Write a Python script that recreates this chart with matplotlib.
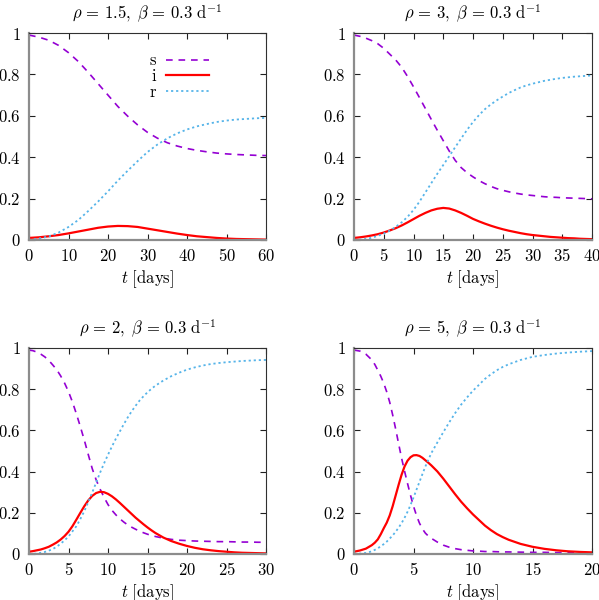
import matplotlib
matplotlib.use('Agg')
import matplotlib.pyplot as plt
from matplotlib.ticker import FuncFormatter, MultipleLocator

plt.rcParams['mathtext.fontset'] = 'cm'
plt.rcParams['font.family'] = 'DejaVu Serif'

# rho = 1.5
t1 = [0, 2.5, 5, 7.5, 10, 12.5, 15, 17.5, 20, 22.5, 25, 27.5, 30, 32.5, 35, 37.5,
      40, 42.5, 45, 47.5, 50, 52.5, 55, 57.5, 60]
s1 = [0.99, 0.98, 0.965, 0.94, 0.905, 0.862, 0.81, 0.755, 0.70, 0.645, 0.598, 0.556,
      0.52, 0.492, 0.47, 0.454, 0.442, 0.433, 0.426, 0.42, 0.416, 0.413, 0.411, 0.409, 0.408]
i1 = [0.010, 0.013, 0.018, 0.024, 0.032, 0.041, 0.050, 0.059, 0.065, 0.068, 0.067, 0.063,
      0.055, 0.047, 0.039, 0.031, 0.024, 0.018, 0.014, 0.010, 0.007, 0.005, 0.004, 0.003, 0.002]
r1 = [0.0, 0.007, 0.017, 0.036, 0.063, 0.097, 0.14, 0.186, 0.235, 0.287, 0.335, 0.381,
      0.425, 0.461, 0.491, 0.515, 0.534, 0.549, 0.56, 0.57, 0.577, 0.582, 0.585, 0.588, 0.59]

# rho = 3
t2 = list(range(0, 41))
s2 = [0.99, 0.984, 0.975, 0.963, 0.948, 0.926, 0.898, 0.87, 0.835, 0.79, 0.74, 0.688,
      0.635, 0.582, 0.53, 0.48, 0.43, 0.385, 0.35, 0.325, 0.305, 0.287, 0.272, 0.259,
      0.248, 0.24, 0.233, 0.227, 0.222, 0.218, 0.215, 0.212, 0.209, 0.207, 0.206, 0.204,
      0.203, 0.202, 0.201, 0.2, 0.199]
i2 = [0.01, 0.013, 0.017, 0.022, 0.028, 0.036, 0.046, 0.057, 0.07, 0.085, 0.101, 0.117,
      0.131, 0.143, 0.151, 0.155, 0.152, 0.143, 0.131, 0.117, 0.102, 0.09, 0.079, 0.069,
      0.06, 0.052, 0.045, 0.039, 0.033, 0.028, 0.024, 0.021, 0.018, 0.015, 0.013, 0.011,
      0.009, 0.008, 0.006, 0.005, 0.004]
r2 = [0.0, 0.002, 0.005, 0.011, 0.02, 0.031, 0.045, 0.063, 0.085, 0.112, 0.145, 0.185,
      0.23, 0.275, 0.32, 0.362, 0.405, 0.448, 0.49, 0.532, 0.57, 0.603, 0.632, 0.655,
      0.675, 0.693, 0.71, 0.724, 0.737, 0.747, 0.755, 0.762, 0.769, 0.774, 0.779, 0.783,
      0.786, 0.789, 0.791, 0.793, 0.795]

# rho = 2
t3 = [0, 0.5, 1, 1.5, 2, 2.5, 3, 3.5, 4, 4.5, 5, 5.5, 6, 6.5, 7, 7.5, 8, 8.5, 9, 9.5,
      10, 10.5, 11, 11.5, 12, 12.5, 13, 13.5, 14, 14.5, 15, 15.5, 16, 17, 18, 19, 20,
      21, 22, 23, 24, 25, 26, 27, 28, 29, 30]
s3 = [0.99, 0.987, 0.98, 0.97, 0.957, 0.94, 0.918, 0.895, 0.865, 0.83, 0.788, 0.738,
      0.68, 0.618, 0.553, 0.483, 0.415, 0.36, 0.315, 0.275, 0.24, 0.212, 0.19, 0.171,
      0.155, 0.141, 0.13, 0.12, 0.111, 0.103, 0.096, 0.09, 0.085, 0.077, 0.071, 0.067,
      0.065, 0.063, 0.062, 0.061, 0.06, 0.06, 0.059, 0.058, 0.058, 0.057, 0.057]
i3 = [0.011, 0.014, 0.018, 0.022, 0.028, 0.035, 0.045, 0.056, 0.07, 0.087, 0.108, 0.135,
      0.167, 0.2, 0.232, 0.26, 0.282, 0.296, 0.302, 0.3, 0.292, 0.28, 0.265, 0.248, 0.23,
      0.212, 0.194, 0.176, 0.16, 0.144, 0.129, 0.115, 0.102, 0.08, 0.063, 0.05, 0.039,
      0.03, 0.023, 0.018, 0.014, 0.011, 0.008, 0.006, 0.005, 0.004, 0.003]
r3 = [0.0, 0.001, 0.002, 0.006, 0.01, 0.016, 0.024, 0.035, 0.05, 0.066, 0.085, 0.11,
      0.135, 0.17, 0.208, 0.252, 0.298, 0.347, 0.395, 0.44, 0.482, 0.522, 0.56, 0.595,
      0.63, 0.663, 0.693, 0.72, 0.745, 0.766, 0.785, 0.802, 0.817, 0.842, 0.863, 0.88,
      0.895, 0.906, 0.915, 0.922, 0.927, 0.931, 0.934, 0.937, 0.939, 0.941, 0.942]

# rho = 5
t4 = [0, 0.5, 1, 1.5, 1.75, 2, 2.25, 2.5, 2.75, 3, 3.25, 3.5, 3.75, 4, 4.25, 4.5, 4.75,
      5, 5.25, 5.5, 5.75, 6, 6.25, 6.5, 7, 7.5, 8, 8.5, 9, 9.5, 10, 10.5, 11, 11.5, 12,
      12.5, 13, 14, 15, 16, 17, 18, 19, 20]
s4 = [0.99, 0.985, 0.97, 0.942, 0.92, 0.892, 0.863, 0.829, 0.787, 0.737, 0.675, 0.607,
      0.535, 0.465, 0.402, 0.342, 0.285, 0.232, 0.187, 0.15, 0.122, 0.101, 0.087, 0.076,
      0.058, 0.043, 0.033, 0.026, 0.021, 0.018, 0.015, 0.014, 0.012, 0.012, 0.011, 0.01,
      0.01, 0.009, 0.008, 0.008, 0.007, 0.007, 0.006, 0.006]
i4 = [0.011, 0.017, 0.026, 0.043, 0.055, 0.071, 0.096, 0.125, 0.152, 0.187, 0.232, 0.284,
      0.336, 0.385, 0.425, 0.453, 0.47, 0.479, 0.48, 0.476, 0.467, 0.455, 0.443, 0.43,
      0.401, 0.366, 0.328, 0.29, 0.254, 0.222, 0.192, 0.165, 0.138, 0.116, 0.097, 0.082,
      0.069, 0.049, 0.035, 0.025, 0.018, 0.013, 0.01, 0.008]
r4 = [0.0, 0.002, 0.005, 0.013, 0.02, 0.028, 0.037, 0.048, 0.06, 0.075, 0.09, 0.108,
      0.128, 0.15, 0.176, 0.205, 0.238, 0.274, 0.312, 0.35, 0.388, 0.425, 0.458, 0.49,
      0.541, 0.591, 0.639, 0.684, 0.725, 0.76, 0.793, 0.821, 0.85, 0.872, 0.892, 0.908,
      0.921, 0.942, 0.957, 0.966, 0.973, 0.978, 0.982, 0.985]

panels = [
    (t1, s1, i1, r1, '1.5', 60, 10),
    (t2, s2, i2, r2, '3', 40, 5),
    (t3, s3, i3, r3, '2', 30, 5),
    (t4, s4, i4, r4, '5', 20, 5),
]
boxes = [
    [29/599, 0.6, 237/599, 207/600],
    [354/599, 0.6, 238/599, 207/600],
    [29/599, 46/600, 237/599, 206/600],
    [354/599, 46/600, 238/599, 206/600],
]

fmt = FuncFormatter(lambda v, p: f'${v:g}$')

fig = plt.figure(figsize=(5.99, 6.0), dpi=100)
for k, (t, s, i, r, rho, xmax, xstep) in enumerate(panels):
    ax = fig.add_axes(boxes[k])
    ax.plot(t, s, color='#9400d3', lw=1.2, ls=(0, (4, 3.5)), label=r'$\mathrm{s}$')
    ax.plot(t, i, color='#ff0000', lw=1.6, ls='-', label=r'$\mathrm{i}$')
    ax.plot(t, r, color='#56b4e9', lw=1.3, ls=(0, (1.2, 1.6)), label=r'$\mathrm{r}$')
    ax.set_xlim(0, xmax)
    ax.set_ylim(0, 1)
    ax.xaxis.set_major_locator(MultipleLocator(xstep))
    ax.yaxis.set_major_locator(MultipleLocator(0.2))
    ax.xaxis.set_major_formatter(fmt)
    ax.yaxis.set_major_formatter(fmt)
    ax.tick_params(direction='in', top=True, right=True, length=4.5, width=0.8,
                   labelsize=12, pad=6, colors='#202020', labelcolor='black')
    for side in ['top', 'right']:
        ax.spines[side].set_color('#303030')
        ax.spines[side].set_linewidth(0.8)
    for side in ['left', 'bottom']:
        ax.spines[side].set_color('#8c8c8c')
        ax.spines[side].set_linewidth(1.6)
    ax.set_title(r'$\rho\,=\,' + rho + r',\;\beta\,=\,0.3\ \mathrm{d}^{-1}$',
                 fontsize=12, pad=10)
    ax.set_xlabel(r'$t\ [\mathrm{days}]$', fontsize=12, labelpad=2)
    if k == 0:
        ax.legend(loc='upper right', bbox_to_anchor=(0.76, 0.906), frameon=False,
                  markerfirst=False, handlelength=2.6, handletextpad=0.5,
                  labelspacing=-0.08, fontsize=12, borderaxespad=0, borderpad=0)

fig.savefig('out.png', dpi=100)
